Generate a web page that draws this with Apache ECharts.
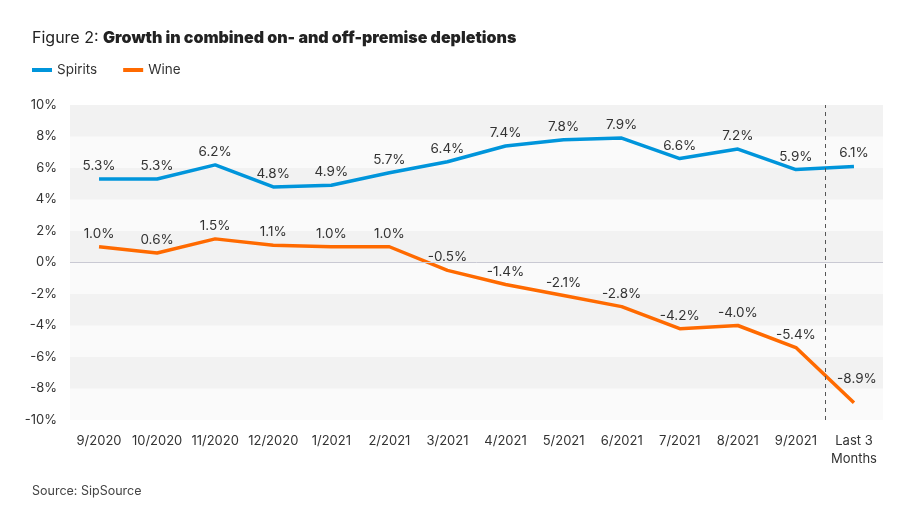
<!DOCTYPE html>
<html>
<head>
<meta charset="utf-8">
<script src="https://cdn.jsdelivr.net/npm/echarts@6/dist/echarts.min.js"></script>
<style>html,body{margin:0;padding:0;background:#fff}#c{width:914px;height:520px}</style>
</head>
<body>
<div id="c"></div>
<script>
const categories = ['9/2020','10/2020','11/2020','12/2020','1/2021','2/2021','3/2021','4/2021','5/2021','6/2021','7/2021','8/2021','9/2021','Last 3\nMonths'];
const spirits = [5.3,5.3,6.2,4.8,4.9,5.7,6.4,7.4,7.8,7.9,6.6,7.2,5.9,6.1];
const wine = [1.0,0.6,1.5,1.1,1.0,1.0,-0.5,-1.4,-2.1,-2.8,-4.2,-4.0,-5.4,-8.9];
const yTicks = [-10,-8,-6,-4,-2,0,2,4,6,8,10];
const dividerPosition = 13; // boundary before "Last 3 Months"

const FONT = 'Inter, "Noto Sans", sans-serif';
const chart = echarts.init(document.getElementById('c'));
const labelCfg = {
  show: true, position: 'top', distance: 6,
  color: '#333', fontSize: 13.5, fontFamily: FONT,
  formatter: p => p.value.toFixed(1) + '%'
};
const wineData = wine.map((v, i) => i === wine.length - 1
  ? {value: v, label: {distance: 17, offset: [3, 0]}}
  : v);
chart.setOption({
  animation: false,
  textStyle: {fontFamily: FONT},
  title: {
    left: 32, top: 30, padding: 0,
    text: '{n|Figure 2: }{b|Growth in combined on- and off-premise depletions}',
    textStyle: {
      fontWeight: 'normal',
      rich: {
        n: {fontSize: 16, color: '#222', fontWeight: 'normal', fontFamily: FONT},
        b: {fontSize: 16, color: '#222', fontWeight: 900, fontFamily: FONT}
      }
    }
  },
  legend: {
    left: 32, top: 63, padding: 0,
    itemWidth: 20, itemHeight: 4, itemGap: 26,
    icon: 'rect',
    textStyle: {fontSize: 13.5, color: '#333', fontFamily: FONT},
    data: ['Spirits', 'Wine']
  },
  grid: {left: 70, right: 31, top: 105, bottom: 100},
  xAxis: [{
    type: 'category', data: categories, boundaryGap: true,
    axisLine: {show: false}, axisTick: {show: false},
    axisLabel: {color: '#333', fontSize: 13, margin: 12, lineHeight: 18, fontFamily: FONT, interval: 0}
  }, {
    type: 'value', min: 0, max: 14, show: false
  }],
  yAxis: {
    type: 'value', min: yTicks[0], max: yTicks[yTicks.length - 1], interval: 2,
    axisLine: {show: false}, axisTick: {show: false},
    splitLine: {show: false},
    splitArea: {show: true, areaStyle: {color: ['#fafafa', '#f2f2f2']}},
    axisLabel: {color: '#333', fontSize: 13, margin: 13, fontFamily: FONT, formatter: v => v + '%'}
  },
  series: [{
    name: 'Spirits', type: 'line', data: spirits,
    color: '#0095DB', lineStyle: {width: 3.5, color: '#0095DB'},
    symbol: 'circle', symbolSize: 0.1, showSymbol: true, label: labelCfg,
    markLine: {
      silent: true, symbol: 'none', label: {show: false},
      lineStyle: {color: '#c9c9d3', type: 'solid', width: 1},
      data: [{yAxis: 0}]
    }
  }, {
    name: 'Wine', type: 'line', data: wineData,
    color: '#FF6A00', lineStyle: {width: 3.5, color: '#FF6A00'},
    symbol: 'circle', symbolSize: 0.1, showSymbol: true, label: labelCfg
  }, {
    type: 'line', xAxisIndex: 1, data: [],
    markLine: {
      silent: true, symbol: 'none', label: {show: false},
      lineStyle: {color: '#555', type: [4, 4], width: 1},
      data: [{xAxis: dividerPosition}]
    }
  }],
  graphic: [{
    type: 'text', left: 32, top: 485,
    style: {text: 'Source: SipSource', fontSize: 12.5, fill: '#444', fontFamily: FONT}
  }]
});
</script>
</body>
</html>
